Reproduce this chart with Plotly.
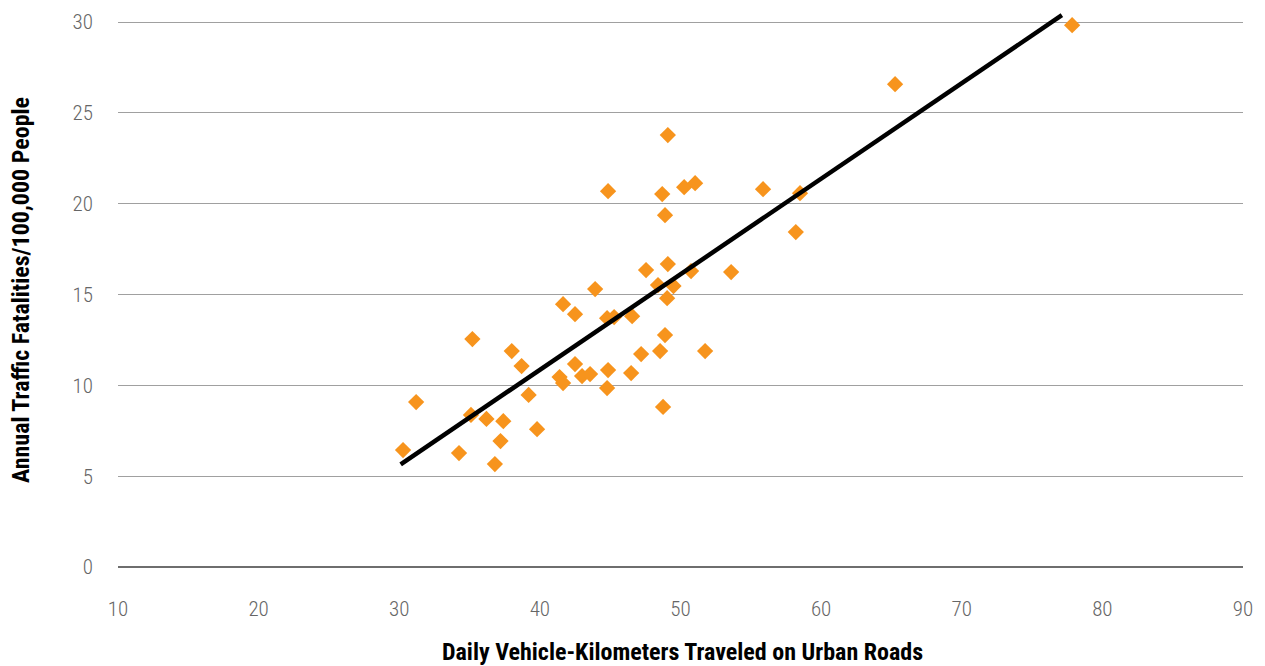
import plotly.graph_objects as go

# Data
vkt = [30.27, 31.2, 34.25, 35.1, 35.2, 36.2, 36.8, 37.2, 37.4, 38.0,
       38.7, 39.2, 39.8, 41.4, 41.65, 41.65, 42.5, 42.5, 43.0, 43.57,
       43.93, 44.78, 44.85, 44.78, 45.28, 44.85, 46.49, 46.56, 47.2, 47.55,
       48.4, 48.55, 48.7, 48.76, 48.9, 48.9, 49.05, 49.1, 49.1, 49.5,
       50.26, 50.75, 51.04, 51.75, 53.6, 55.87, 58.2, 58.5, 65.26, 77.85]
fatalities = [6.44, 9.08, 6.27, 8.37, 12.55, 8.15, 5.67, 6.93, 8.03, 11.89,
              11.06, 9.47, 7.59, 10.46, 10.13, 14.47, 13.92, 11.17, 10.51, 10.62,
              15.3, 9.85, 10.84, 13.7, 13.76, 20.69, 10.68, 13.81, 11.72, 16.35,
              15.52, 11.89, 20.53, 8.81, 19.37, 12.77, 14.8, 16.68, 23.78, 15.47,
              20.91, 16.29, 21.13, 11.89, 16.24, 20.8, 18.44, 20.58, 26.58, 29.83]
trend_x = [30.1, 77.12]
trend_y = [5.65, 30.38]

x_ticks = [10, 20, 30, 40, 50, 60, 70, 80, 90]
y_ticks = [0, 5, 10, 15, 20, 25, 30]

cond = "Roboto Condensed, Liberation Sans Narrow, DejaVu Sans Condensed, Roboto, sans-serif"

fig = go.Figure()
fig.add_trace(go.Scatter(
    x=vkt, y=fatalities, mode="markers",
    marker=dict(symbol="diamond", size=12.5, color="#F7941D", line=dict(width=0)),
    showlegend=False, hoverinfo="x+y"))
fig.add_trace(go.Scatter(
    x=trend_x, y=trend_y, mode="lines",
    line=dict(color="#000000", width=4.5),
    showlegend=False, hoverinfo="skip"))

fig.update_layout(
    width=1265, height=666,
    margin=dict(l=118, r=22, t=13, b=99),
    paper_bgcolor="white", plot_bgcolor="white",
    font=dict(family=cond, color="#666666", size=21),
    xaxis=dict(
        range=[10, 90], tickvals=x_ticks, ticktext=[str(v) for v in x_ticks],
        showgrid=False, zeroline=False, showline=False, automargin=False,
        ticks="", ticklabelstandoff=27,
        tickfont=dict(family=cond, size=21, color="#666666", weight=300),
    ),
    yaxis=dict(
        range=[0, 30.5], tickvals=y_ticks, ticktext=[str(v) for v in y_ticks],
        showgrid=True, gridcolor="#A0A0A0", gridwidth=1,
        zeroline=True, zerolinecolor="#6E6E6E", zerolinewidth=2,
        showline=False, ticks="", ticklabelstandoff=24, automargin=False,
        tickfont=dict(family=cond, size=21, color="#666666", weight=300),
        title=dict(text="Annual Traffic Fatalities/100,000 People",
                   font=dict(family=cond, size=24, color="#000000", weight="bold"),
                   standoff=36),
    ),
    annotations=[dict(
        text="Daily Vehicle-Kilometers Traveled on Urban Roads",
        xref="paper", yref="paper", x=0.5, y=0, xanchor="center", yanchor="middle",
        yshift=-85, xshift=2, showarrow=False,
        font=dict(family=cond, size=24, color="#000000", weight="bold"))],
)

fig.write_html("out.html", config={"displayModeBar": False},
               post_script="document.body.style.margin='0px';")
